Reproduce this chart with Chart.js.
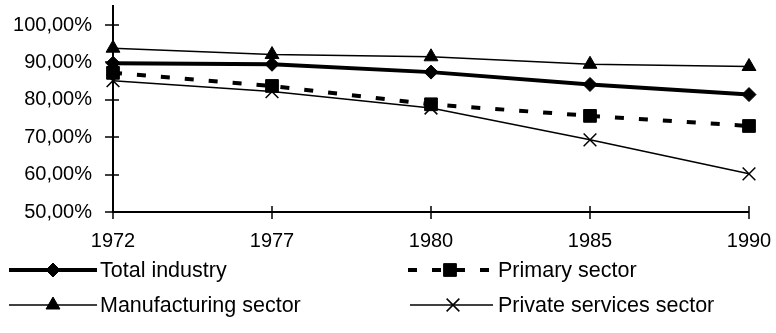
<!DOCTYPE html>
<html>
<head>
<meta charset="utf-8">
<script src="https://cdn.jsdelivr.net/npm/chart.js@4"></script>
<style>
html,body{margin:0;padding:0;background:#fff;}
#wrap{width:776px;height:333px;}
</style>
</head>
<body>
<div id="wrap"><canvas id="c" width="776" height="333"></canvas></div>
<script>
const years = ['1972', '1977', '1980', '1985', '1990'];
const totalIndustry = [89.8, 89.5, 87.4, 84.1, 81.4];
const primarySector = [87.2, 83.7, 78.8, 75.7, 73.0];
const manufacturingSector = [93.8, 92.1, 91.5, 89.5, 88.9];
const privateServicesSector = [85.1, 82.2, 77.8, 69.3, 60.2];
const yTickValues = [50, 60, 70, 80, 90, 100];
const seriesNames = ['Total industry', 'Primary sector', 'Manufacturing sector', 'Private services sector'];

const FONT = '"Liberation Sans", Arial, sans-serif';
const TICK_SIZE = 20;
const LEGEND_SIZE = 21.5;

function fmtPct(v) { return v.toFixed(2).replace('.', ',') + '%'; }

const axesPlugin = {
  id: 'excelAxes',
  afterDatasetsDraw(chart) {
    const ctx = chart.ctx;
    const xs = chart.scales.x, ys = chart.scales.y;
    const left = chart.chartArea.left, bottom = chart.chartArea.bottom;
    ctx.save();
    ctx.strokeStyle = '#000';
    ctx.lineWidth = 2;
    ctx.setLineDash([]);
    ctx.beginPath();
    ctx.moveTo(left, chart.chartArea.top - 20);
    ctx.lineTo(left, bottom);
    ctx.lineTo(chart.chartArea.right, bottom);
    ctx.stroke();
    ctx.lineWidth = 1.5;
    ctx.beginPath();
    yTickValues.forEach(v => {
      const y = Math.round(ys.getPixelForValue(v));
      ctx.moveTo(left - 8, y); ctx.lineTo(left + 6, y);
    });
    years.forEach((_, i) => {
      const x = Math.round(xs.getPixelForValue(i));
      ctx.moveTo(x, bottom - 6); ctx.lineTo(x, bottom + 7);
    });
    ctx.stroke();
    ctx.restore();
  }
};

const legendPlugin = {
  id: 'excelLegend',
  afterDraw(chart) {
    const ctx = chart.ctx;
    const pos = [
      {x0: 9, x1: 97, mx: 53, tx: 100, y: 270},
      {x0: 408, x1: 493, mx: 450, tx: 498, y: 270},
      {x0: 9, x1: 97, mx: 53, tx: 100, y: 305},
      {x0: 410, x1: 493, mx: 453, tx: 498, y: 305}
    ];
    chart.data.datasets.forEach((ds, i) => {
      const p = pos[i];
      ctx.save();
      ctx.strokeStyle = '#000';
      ctx.fillStyle = '#000';
      ctx.lineWidth = ds.borderWidth;
      ctx.setLineDash(ds.borderDash || []);
      ctx.beginPath();
      ctx.moveTo(p.x0, p.y); ctx.lineTo(p.x1, p.y);
      ctx.stroke();
      ctx.setLineDash([]);
      ctx.lineWidth = ds.pointBorderWidth;
      Chart.helpers.drawPoint(ctx, {
        pointStyle: ds.pointStyle,
        radius: ds.pointRadius,
        rotation: 0,
        borderWidth: ds.pointBorderWidth
      }, p.mx, p.y);
      ctx.font = LEGEND_SIZE + 'px ' + FONT;
      ctx.textBaseline = 'middle';
      ctx.textAlign = 'left';
      ctx.fillText(ds.label, p.tx, p.y + 1);
      ctx.restore();
    });
  }
};

new Chart(document.getElementById('c'), {
  type: 'line',
  data: {
    labels: years,
    datasets: [
      {label: seriesNames[0], data: totalIndustry, borderColor: '#000', backgroundColor: '#000',
       borderWidth: 4, pointStyle: 'rectRot', pointRadius: 7, pointBorderWidth: 1, tension: 0},
      {label: seriesNames[1], data: primarySector, borderColor: '#000', backgroundColor: '#000',
       borderWidth: 4, borderDash: [9, 15], pointStyle: 'rect', pointRadius: 9, pointBorderWidth: 1, tension: 0},
      {label: seriesNames[2], data: manufacturingSector, borderColor: '#000', backgroundColor: '#000',
       borderWidth: 1.5, pointStyle: 'triangle', pointRadius: 8, pointBorderWidth: 1, tension: 0},
      {label: seriesNames[3], data: privateServicesSector, borderColor: '#000', backgroundColor: '#000',
       borderWidth: 1.5, pointStyle: 'crossRot', pointRadius: 9, pointBorderWidth: 1.5, tension: 0}
    ]
  },
  options: {
    responsive: false,
    animation: false,
    events: [],
    layout: {padding: {left: 0, top: 25, right: 27, bottom: 0}},
    plugins: {legend: {display: false}, tooltip: {enabled: false}},
    scales: {
      x: {
        offset: false,
        grid: {display: false, drawTicks: false},
        border: {display: false},
        ticks: {color: '#000', font: {family: FONT, size: TICK_SIZE}, padding: 17, maxRotation: 0, autoSkip: false},
        afterFit(s) { s.height = 121; s.paddingLeft = 0; s.paddingRight = 0; }
      },
      y: {
        min: 50, max: 100,
        grid: {display: false, drawTicks: false},
        border: {display: false},
        afterBuildTicks(s) { s.ticks = yTickValues.map(v => ({value: v})); },
        ticks: {color: '#000', font: {family: FONT, size: TICK_SIZE}, padding: 21, callback: v => fmtPct(v)},
        afterFit(s) { s.width = 113; s.paddingTop = 0; s.paddingBottom = 0; }
      }
    }
  },
  plugins: [axesPlugin, legendPlugin]
});
</script>
</body>
</html>
